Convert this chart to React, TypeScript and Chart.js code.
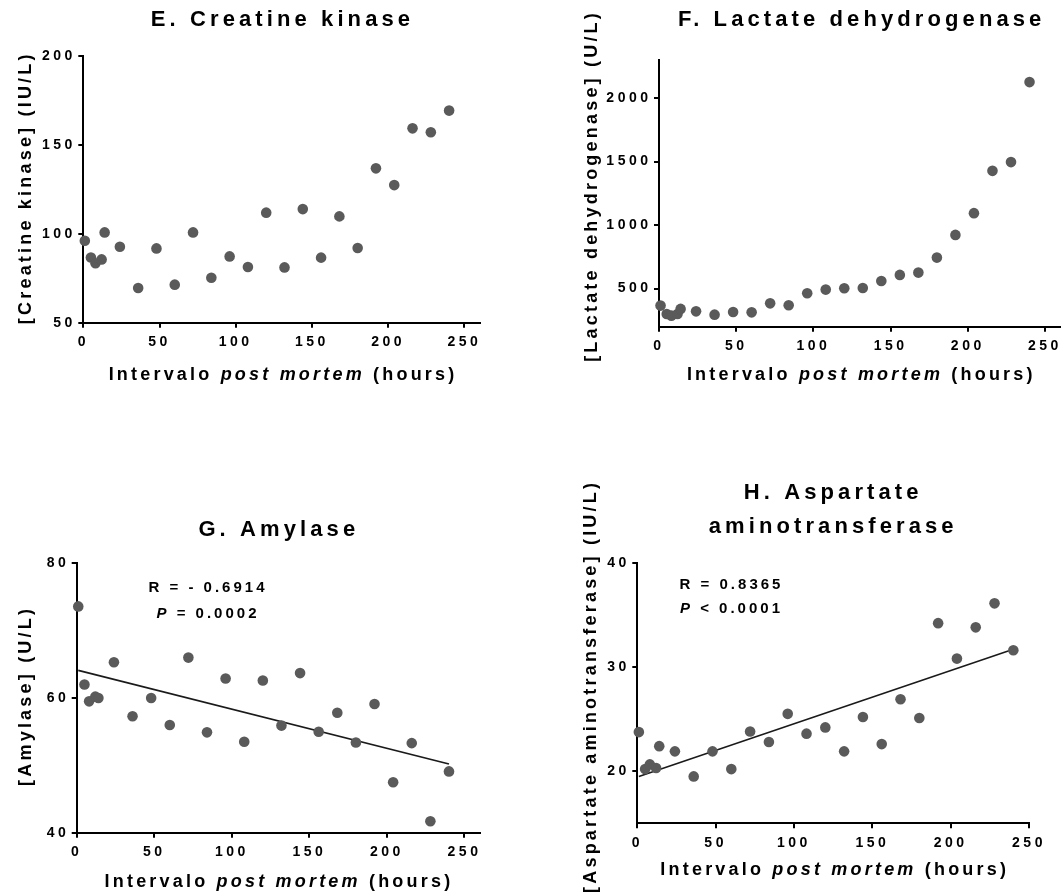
import React, { useEffect, useRef } from 'react';
import { Chart, registerables } from 'chart.js';

Chart.register(...registerables);

// ---------- data ----------
const hours = [1, 5, 8, 12, 14, 24, 36, 48, 60, 72, 84, 96, 108, 120, 132, 144, 156, 168, 180, 192, 204, 216, 228, 240];

const creatineKinase = [96.1, 86.7, 83.4, 85.6, 100.8, 92.7, 69.5, 91.8, 71.4, 100.8, 75.3, 87.3, 81.3, 111.9, 81.1, 113.9, 86.6, 109.8, 92.0, 136.8, 127.4, 159.3, 157.1, 169.3];

const lactateDehydrogenase = [366, 300, 287, 300, 340, 321, 295, 316, 313, 384, 369, 463, 492, 503, 505, 560, 608, 626, 744, 923, 1094, 1427, 1496, 2126];

const amylase = [73.6, 62.0, 59.5, 60.2, 60.0, 65.3, 57.3, 60.0, 56.0, 66.0, 54.9, 62.9, 53.5, 62.6, 55.9, 63.7, 55.0, 57.8, 53.4, 59.1, 47.5, 53.3, 41.7, 49.1];

const aspartate = [23.75, 20.2, 20.65, 20.3, 22.4, 21.9, 19.5, 21.9, 20.2, 23.8, 22.8, 25.5, 23.6, 24.2, 21.9, 25.2, 22.6, 26.9, 25.1, 34.2, 30.8, 33.8, 36.1, 31.6];

// regression lines (end points)
const amylaseFitHours = [1, 240];
const amylaseFitValues = [64.1, 50.2];
const aspartateFitHours = [1, 240];
const aspartateFitValues = [19.5, 31.7];

// tick labels
const hourTicks = [0, 50, 100, 150, 200, 250];
const creatineTicks = [50, 100, 150, 200];
const lactateTicks = [500, 1000, 1500, 2000];
const amylaseTicks = [40, 60, 80];
const aspartateTicks = [20, 30, 40];

// ---------- styling ----------
const W = 1062;
const H = 892;
const FAMILY = '"Liberation Sans", Arial, Helvetica, sans-serif';
const TICK_SIZE = 14;
const TICK_LS = 3.5;
const TITLE_SIZE = 22;
const TITLE_LS = 4.1;
const AXIS_SIZE = 18;
const AXIS_LS = 3.2;
const STAT_SIZE = 15;
const STAT_LS = 3;
const POINT_COLOR = '#5a5a5a';

type Seg = { t: string; i?: boolean };

type PanelSpec = {
  area: { l: number; t: number; r: number; b: number };
  xMax: number;
  yMin: number;
  yMax: number;
  yTicks: number[];
  values: number[];
  fit?: { xs: number[]; ys: number[] };
  title: string[];
  titleDx: number;
  titleDy: number[];
  xTitleDx: number;
  xTitleDy: number;
  yTitle: string;
  yTitleDx: number;
  yTitleDy: number;
  stats?: { lines: Seg[][]; dx: number; dy: number[] };
};

const xTitleSegs: Seg[] = [
  { t: 'Intervalo ' },
  { t: 'post mortem', i: true },
  { t: ' (hours)' },
];

const panels: PanelSpec[] = [
  {
    area: { l: 83.3, t: 56, r: 479.6, b: 322.7 },
    xMax: 260, yMin: 50, yMax: 200, yTicks: creatineTicks, values: creatineKinase,
    title: ['E. Creatine kinase'], titleDx: -1, titleDy: [-30],
    xTitleDx: 0, xTitleDy: 57.3,
    yTitle: '[Creatine kinase] (IU/L)', yTitleDx: -52.3, yTitleDy: 0,
  },
  {
    area: { l: 659, t: 60, r: 1060.4, b: 326.7 },
    xMax: 260, yMin: 200, yMax: 2300, yTicks: lactateTicks, values: lactateDehydrogenase,
    title: ['F. Lactate dehydrogenase'], titleDx: 0, titleDy: [-34],
    xTitleDx: 0, xTitleDy: 53.3,
    yTitle: '[Lactate dehydrogenase] (U/L)', yTitleDx: -62, yTitleDy: -5.8,
  },
  {
    area: { l: 76.7, t: 563.3, r: 480, b: 832.7 },
    xMax: 260, yMin: 40, yMax: 80, yTicks: amylaseTicks, values: amylase,
    fit: { xs: amylaseFitHours, ys: amylaseFitValues },
    title: ['G. Amylase'], titleDx: -1.6, titleDy: [-27.3],
    xTitleDx: -1, xTitleDy: 53.8,
    yTitle: '[Amylase] (U/L)', yTitleDx: -45.7, yTitleDy: -0.5,
    stats: {
      lines: [[{ t: 'R = - 0.6914' }], [{ t: 'P', i: true }, { t: ' = 0.0002' }]],
      dx: 129.8, dy: [28.4, 54.4],
    },
  },
  {
    area: { l: 637.3, t: 562.7, r: 1029, b: 823.3 },
    xMax: 250, yMin: 15, yMax: 40, yTicks: aspartateTicks, values: aspartate,
    fit: { xs: aspartateFitHours, ys: aspartateFitValues },
    title: ['H. Aspartate', 'aminotransferase'], titleDx: -2, titleDy: [-63.4, -30],
    xTitleDx: 0, xTitleDy: 51.7,
    yTitle: '[Aspartate aminotransferase] (IU/L)', yTitleDx: -41.3, yTitleDy: -5,
    stats: {
      lines: [[{ t: 'R = 0.8365' }], [{ t: 'P', i: true }, { t: ' < 0.0001' }]],
      dx: 92.7, dy: [26.6, 50.6],
    },
  },
];

function fontOf(size: number, italic?: boolean) {
  return `${italic ? 'italic ' : ''}bold ${size}px ${FAMILY}`;
}

function drawLine(ctx: CanvasRenderingContext2D, segs: Seg[], cx: number, y: number, size: number, ls: number) {
  (ctx as any).letterSpacing = ls + 'px';
  ctx.textAlign = 'left';
  ctx.textBaseline = 'alphabetic';
  const widths = segs.map((s) => {
    ctx.font = fontOf(size, s.i);
    return ctx.measureText(s.t).width;
  });
  const total = widths.reduce((a, b) => a + b, 0) - ls;
  let x = cx - total / 2;
  segs.forEach((s, k) => {
    ctx.font = fontOf(size, s.i);
    ctx.fillText(s.t, x, y);
    x += widths[k];
  });
}

function makeTextPlugin(p: PanelSpec) {
  return {
    id: 'panelText',
    beforeUpdate(chart: any) {
      chart.ctx.letterSpacing = TICK_LS + 'px';
    },
    beforeDraw(chart: any) {
      chart.ctx.letterSpacing = TICK_LS + 'px';
    },
    afterDraw(chart: any) {
      const ctx: CanvasRenderingContext2D = chart.ctx;
      const a = chart.chartArea;
      const cx = (a.left + a.right) / 2;
      const cy = (a.top + a.bottom) / 2;
      ctx.save();
      ctx.fillStyle = '#000';
      p.title.forEach((line, i) => drawLine(ctx, [{ t: line }], cx + p.titleDx, a.top + p.titleDy[i], TITLE_SIZE, TITLE_LS));
      drawLine(ctx, xTitleSegs, cx + p.xTitleDx, a.bottom + p.xTitleDy, AXIS_SIZE, AXIS_LS);
      ctx.save();
      ctx.translate(a.left + p.yTitleDx, cy + p.yTitleDy);
      ctx.rotate(-Math.PI / 2);
      drawLine(ctx, [{ t: p.yTitle }], 0, 0, AXIS_SIZE, AXIS_LS);
      ctx.restore();
      if (p.stats) {
        const st = p.stats;
        st.lines.forEach((segs, i) => drawLine(ctx, segs, a.left + st.dx, a.top + st.dy[i], STAT_SIZE, STAT_LS));
      }
      ctx.restore();
      (ctx as any).letterSpacing = TICK_LS + 'px';
    },
  };
}

const Y_BOX = 70;
const X_BOX = 40;

function axis(isX: boolean, min: number, max: number, ticks: number[]) {
  return {
    type: 'linear',
    min,
    max,
    border: { display: true, color: '#000', width: 2 },
    grid: {
      display: true,
      drawOnChartArea: false,
      drawTicks: true,
      tickLength: 5,
      tickWidth: 2,
      tickColor: '#000',
      color: '#000',
      lineWidth: 2,
    },
    ticks: {
      color: '#000',
      font: { family: FAMILY, size: TICK_SIZE, weight: 'bold' },
      padding: isX ? 6 : 2.5,
      autoSkip: false,
      maxRotation: 0,
      minRotation: 0,
      callback: (v: number) => String(v),
    },
    afterBuildTicks: (s: any) => {
      s.ticks = ticks.map((v) => ({ value: v }));
    },
    afterFit: (s: any) => {
      if (isX) {
        s.height = X_BOX;
        s.paddingLeft = 0;
        s.paddingRight = 0;
      } else {
        s.width = Y_BOX;
        s.paddingTop = 0;
        s.paddingBottom = 0;
      }
    },
  };
}

function buildConfig(p: PanelSpec): any {
  const datasets: any[] = [
    {
      type: 'scatter',
      data: hours.map((h, i) => ({ x: h, y: p.values[i] })),
      backgroundColor: POINT_COLOR,
      borderWidth: 0,
      pointRadius: 5.3,
      pointHoverRadius: 5.3,
      clip: false,
    },
  ];
  if (p.fit) {
    const f = p.fit;
    datasets.push({
      type: 'line',
      data: f.xs.map((x, i) => ({ x, y: f.ys[i] })),
      borderColor: '#1a1a1a',
      borderWidth: 1.6,
      pointRadius: 0,
      fill: false,
      tension: 0,
      clip: false,
    });
  }
  const a = p.area;
  return {
    type: 'scatter',
    data: { datasets },
    options: {
      responsive: false,
      animation: false,
      devicePixelRatio: 1,
      events: [],
      layout: {
        autoPadding: false,
        padding: {
          left: a.l - Y_BOX,
          top: a.t,
          right: W - a.r,
          bottom: H - a.b - X_BOX,
        },
      },
      plugins: {
        legend: { display: false },
        title: { display: false },
        tooltip: { enabled: false },
      },
      scales: {
        x: axis(true, 0, p.xMax, hourTicks),
        y: axis(false, p.yMin, p.yMax, p.yTicks),
      },
    },
    plugins: [makeTextPlugin(p)],
  };
}

function Panel({ spec }: { spec: PanelSpec }) {
  const ref = useRef<HTMLCanvasElement>(null);
  useEffect(() => {
    const chart = new Chart(ref.current as HTMLCanvasElement, buildConfig(spec));
    return () => chart.destroy();
  }, [spec]);
  return (
    <canvas
      ref={ref}
      width={W}
      height={H}
      style={{ position: 'absolute', left: 0, top: 0, width: W, height: H }}
    />
  );
}

export default function App() {
  return (
    <div
      style={{
        position: 'absolute',
        left: 0,
        top: 0,
        width: W,
        height: H,
        overflow: 'hidden',
        background: '#fff',
      }}
    >
      {panels.map((p, i) => (
        <Panel key={i} spec={p} />
      ))}
    </div>
  );
}
